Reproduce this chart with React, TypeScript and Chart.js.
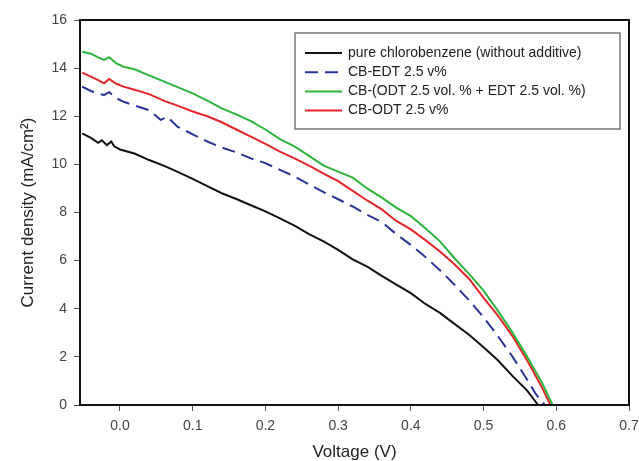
import React, { useEffect, useRef } from "react";
import { Chart, registerables } from "chart.js";

Chart.register(...registerables);

const seriesLabels = [
  "pure chlorobenzene (without additive)",
  "CB-EDT 2.5 v%",
  "CB-(ODT 2.5 vol. % + EDT 2.5 vol. %)",
  "CB-ODT 2.5 v%",
];

const xTicks = [0.0, 0.1, 0.2, 0.3, 0.4, 0.5, 0.6, 0.7];
const yTicks = [0, 2, 4, 6, 8, 10, 12, 14, 16];

const pureV = [-0.052, -0.04, -0.03, -0.025, -0.018, -0.012, -0.008, 0.0, 0.02, 0.04, 0.06, 0.08, 0.1, 0.12, 0.14, 0.16, 0.18, 0.2, 0.22, 0.24, 0.26, 0.28, 0.3, 0.32, 0.34, 0.36, 0.38, 0.4, 0.42, 0.44, 0.46, 0.48, 0.5, 0.52, 0.54, 0.56, 0.575];
const pureJ = [11.29, 11.1, 10.9, 11.0, 10.8, 10.95, 10.75, 10.62, 10.45, 10.18, 9.95, 9.68, 9.4, 9.1, 8.8, 8.56, 8.3, 8.05, 7.76, 7.45, 7.1, 6.8, 6.45, 6.05, 5.75, 5.37, 5.0, 4.65, 4.2, 3.83, 3.37, 2.92, 2.4, 1.85, 1.2, 0.6, 0];

const edtV = [-0.052, -0.04, -0.03, -0.022, -0.015, -0.005, 0.005, 0.02, 0.04, 0.056, 0.065, 0.079, 0.1, 0.12, 0.14, 0.16, 0.18, 0.2, 0.22, 0.24, 0.26, 0.28, 0.3, 0.32, 0.34, 0.36, 0.38, 0.4, 0.42, 0.44, 0.46, 0.48, 0.5, 0.52, 0.54, 0.56, 0.572, 0.584];
const edtJ = [13.23, 13.05, 12.95, 12.88, 13.0, 12.75, 12.6, 12.45, 12.25, 11.85, 11.98, 11.57, 11.25, 10.95, 10.7, 10.5, 10.25, 10.05, 9.77, 9.5, 9.17, 8.85, 8.55, 8.25, 7.9, 7.6, 7.1, 6.65, 6.15, 5.6, 5.0, 4.35, 3.65, 2.85, 2.0, 1.05, 0.45, 0];

const bothV = [-0.052, -0.04, -0.03, -0.022, -0.015, -0.005, 0.005, 0.02, 0.04, 0.06, 0.08, 0.1, 0.12, 0.14, 0.16, 0.18, 0.2, 0.22, 0.24, 0.26, 0.28, 0.3, 0.32, 0.34, 0.36, 0.38, 0.4, 0.42, 0.44, 0.46, 0.48, 0.5, 0.52, 0.54, 0.56, 0.58, 0.595];
const bothJ = [14.68, 14.6, 14.45, 14.34, 14.45, 14.2, 14.06, 13.95, 13.7, 13.45, 13.2, 12.95, 12.65, 12.33, 12.08, 11.8, 11.45, 11.05, 10.75, 10.35, 9.95, 9.7, 9.45, 9.0, 8.62, 8.2, 7.85, 7.35, 6.8, 6.1, 5.45, 4.75, 3.9, 3.0, 2.0, 0.95, 0];

const odtV = [-0.052, -0.04, -0.03, -0.022, -0.015, -0.005, 0.005, 0.02, 0.04, 0.06, 0.08, 0.1, 0.12, 0.14, 0.16, 0.18, 0.2, 0.22, 0.24, 0.26, 0.28, 0.3, 0.32, 0.34, 0.36, 0.38, 0.4, 0.42, 0.44, 0.46, 0.48, 0.5, 0.52, 0.54, 0.56, 0.58, 0.592];
const odtJ = [13.81, 13.65, 13.5, 13.37, 13.55, 13.35, 13.23, 13.1, 12.92, 12.65, 12.43, 12.2, 12.0, 11.75, 11.45, 11.15, 10.85, 10.53, 10.25, 9.95, 9.62, 9.3, 8.9, 8.5, 8.13, 7.65, 7.3, 6.85, 6.38, 5.85, 5.25, 4.45, 3.7, 2.85, 1.85, 0.75, 0];

const FONT = "'Liberation Sans', Arial, sans-serif";

const toPts = (xs: number[], ys: number[]) => xs.map((x, i) => ({ x, y: ys[i] }));

const frameAndLegend = {
  id: "frameAndLegend",
  afterDraw(chart: any) {
    const { ctx, chartArea } = chart;
    ctx.save();
    ctx.strokeStyle = "#111";
    ctx.lineWidth = 2;
    ctx.strokeRect(chartArea.left, chartArea.top, chartArea.right - chartArea.left, chartArea.bottom - chartArea.top);

    const bx = chartArea.right - 334;
    const by = chartArea.top + 13;
    const bw = 325;
    const bh = 96;
    ctx.fillStyle = "#fff";
    ctx.fillRect(bx, by, bw, bh);
    ctx.strokeStyle = "#777";
    ctx.lineWidth = 1.5;
    ctx.strokeRect(bx, by, bw, bh);

    ctx.font = `14px ${FONT}`;
    ctx.textBaseline = "middle";
    ctx.textAlign = "left";
    chart.data.datasets.forEach((ds: any, i: number) => {
      const y = by + 20 + i * 19.2;
      ctx.strokeStyle = ds.borderColor;
      ctx.lineWidth = 2;
      ctx.setLineDash(ds.borderDash || []);
      ctx.beginPath();
      ctx.moveTo(bx + 10, y);
      ctx.lineTo(bx + 47, y);
      ctx.stroke();
      ctx.setLineDash([]);
      ctx.fillStyle = "#222";
      ctx.fillText(ds.label, bx + 53, y);
    });
    ctx.restore();
  },
};

export default function App() {
  const ref = useRef<HTMLCanvasElement | null>(null);
  useEffect(() => {
    if (!ref.current) return;
    const chart = new Chart(ref.current, {
      type: "line",
      data: {
        datasets: [
          { label: seriesLabels[0], data: toPts(pureV, pureJ), borderColor: "#111111", borderWidth: 2, pointRadius: 0, fill: false },
          { label: seriesLabels[1], data: toPts(edtV, edtJ), borderColor: "#2a3397", borderWidth: 2, borderDash: [13, 7], pointRadius: 0, fill: false },
          { label: seriesLabels[2], data: toPts(bothV, bothJ), borderColor: "#2cb53c", borderWidth: 2, pointRadius: 0, fill: false },
          { label: seriesLabels[3], data: toPts(odtV, odtJ), borderColor: "#e42529", borderWidth: 2, pointRadius: 0, fill: false },
        ],
      },
      options: {
        responsive: false,
        animation: false,
        layout: { padding: { top: 20, right: 10, left: 0, bottom: 0 } },
        plugins: { legend: { display: false }, tooltip: { enabled: false } },
        scales: {
          x: {
            type: "linear",
            min: -0.055,
            max: 0.7,
            afterFit: (s: any) => { s.height = 56; s.paddingRight = 0; s.paddingLeft = 0; },
            afterBuildTicks: (s: any) => { s.ticks = xTicks.map((v) => ({ value: v })); },
            grid: { drawOnChartArea: false, drawTicks: true, tickLength: 6, color: "#555" },
            border: { display: true, color: "#111", width: 2 },
            ticks: { padding: 7, color: "#444", font: { size: 14, family: FONT }, callback: (v: any) => Number(v).toFixed(1) },
            title: { display: true, text: "Voltage (V)", color: "#222", font: { size: 17, family: FONT, lineHeight: 1 }, padding: { top: 0, bottom: 0 } },
          },
          y: {
            type: "linear",
            min: 0,
            max: 16,
            afterFit: (s: any) => { s.width = 80; s.paddingTop = 0; s.paddingBottom = 0; },
            afterBuildTicks: (s: any) => { s.ticks = yTicks.map((v) => ({ value: v })); },
            grid: { drawOnChartArea: false, drawTicks: true, tickLength: 6, color: "#555" },
            border: { display: true, color: "#111", width: 2 },
            ticks: { padding: 7, color: "#444", font: { size: 14, family: FONT } },
            title: { display: true, text: "Current density (mA/cm²)", color: "#222", font: { size: 17, family: FONT }, padding: { top: 18, bottom: 0 } },
          },
        },
      },
      plugins: [frameAndLegend],
    });
    return () => chart.destroy();
  }, []);
  return (
    <div style={{ position: "absolute", left: 0, top: 0, width: 639, height: 461, background: "#fff" }}>
      <canvas ref={ref} width={639} height={461} />
    </div>
  );
}
